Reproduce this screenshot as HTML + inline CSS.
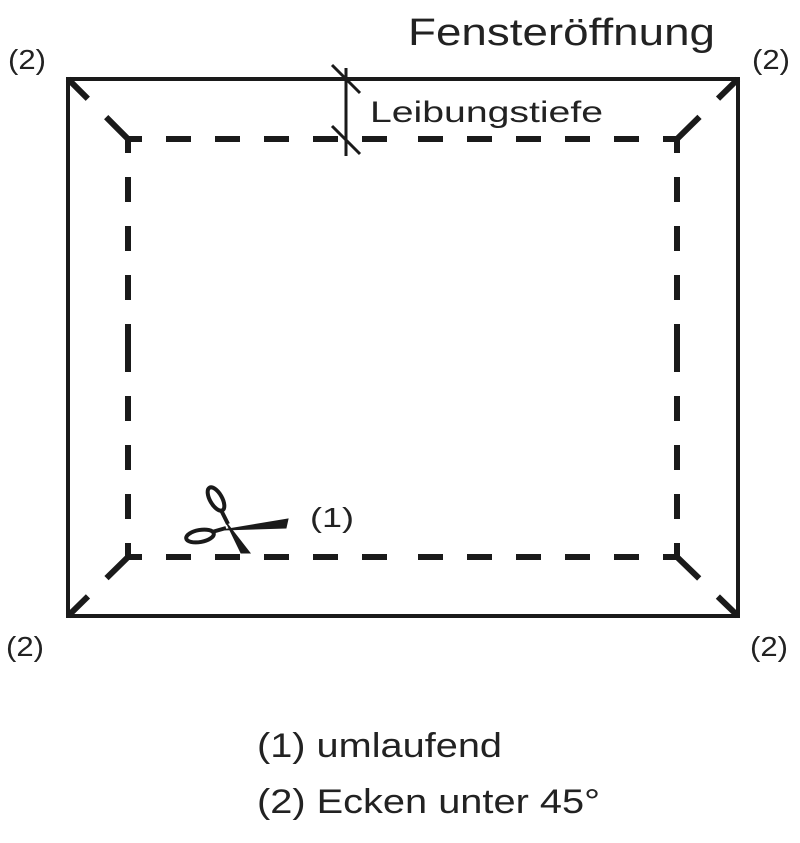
<!DOCTYPE html>
<html><head><meta charset="utf-8"><style>
html,body{margin:0;padding:0;background:#fff;}
svg{display:block;}
text{font-family:"Liberation Sans",sans-serif;fill:#222;}
</style></head><body>
<svg width="800" height="843" viewBox="0 0 800 843">
<rect x="68" y="79" width="670" height="537" fill="none" stroke="#1a1a1a" stroke-width="4"/>
<g stroke="#1a1a1a" stroke-width="6" fill="none" stroke-dasharray="25 24" stroke-dashoffset="11">
<line x1="128" y1="139" x2="403" y2="139"/>
<line x1="677" y1="139" x2="403" y2="139"/>
<line x1="128" y1="557" x2="403" y2="557"/>
<line x1="677" y1="557" x2="403" y2="557"/>
<line x1="128" y1="139" x2="128" y2="348"/>
<line x1="128" y1="557" x2="128" y2="348"/>
<line x1="677" y1="139" x2="677" y2="348"/>
<line x1="677" y1="557" x2="677" y2="348"/>
</g>
<g stroke="#1a1a1a" stroke-width="6" fill="none" stroke-dasharray="28 26 40">
<line x1="68" y1="79" x2="128" y2="139"/>
<line x1="738" y1="79" x2="677" y2="139"/>
<line x1="68" y1="616" x2="128" y2="557"/>
<line x1="738" y1="616" x2="677" y2="557"/>
</g>
<g stroke="#1a1a1a" stroke-width="3">
<line x1="346" y1="68" x2="346" y2="156"/>
<line x1="332" y1="65" x2="360" y2="93"/>
<line x1="332" y1="126" x2="360" y2="154"/>
</g>
<g fill="#1a1a1a" stroke="#1a1a1a">
<path d="M222 530 L288 519 L286 528 Z" stroke-width="1"/>
<path d="M226 522 L250 553 L241 553 Z" stroke-width="1"/>
<ellipse cx="216" cy="499" rx="6" ry="13" transform="rotate(-30 216 499)" fill="none" stroke-width="4"/>
<line x1="221" y1="510" x2="228" y2="524" stroke-width="4"/>
<ellipse cx="200" cy="536" rx="14" ry="6" transform="rotate(-10 200 536)" fill="none" stroke-width="4"/>
<line x1="212" y1="532" x2="226" y2="528" stroke-width="4"/>
</g>
<text x="408" y="45" font-size="38" textLength="307" lengthAdjust="spacingAndGlyphs">Fensteröffnung</text>
<text x="370" y="122" font-size="30" textLength="233" lengthAdjust="spacingAndGlyphs">Leibungstiefe</text>
<text x="8" y="69" font-size="28" textLength="38" lengthAdjust="spacingAndGlyphs">(2)</text>
<text x="752" y="69" font-size="28" textLength="38" lengthAdjust="spacingAndGlyphs">(2)</text>
<text x="6" y="656" font-size="28" textLength="38" lengthAdjust="spacingAndGlyphs">(2)</text>
<text x="750" y="656" font-size="28" textLength="38" lengthAdjust="spacingAndGlyphs">(2)</text>
<text x="310" y="527" font-size="28" textLength="44" lengthAdjust="spacingAndGlyphs">(1)</text>
<text x="257" y="757" font-size="34" textLength="245" lengthAdjust="spacingAndGlyphs">(1) umlaufend</text>
<text x="257" y="813" font-size="34" textLength="343" lengthAdjust="spacingAndGlyphs">(2) Ecken unter 45°</text>
</svg>
</body></html>
